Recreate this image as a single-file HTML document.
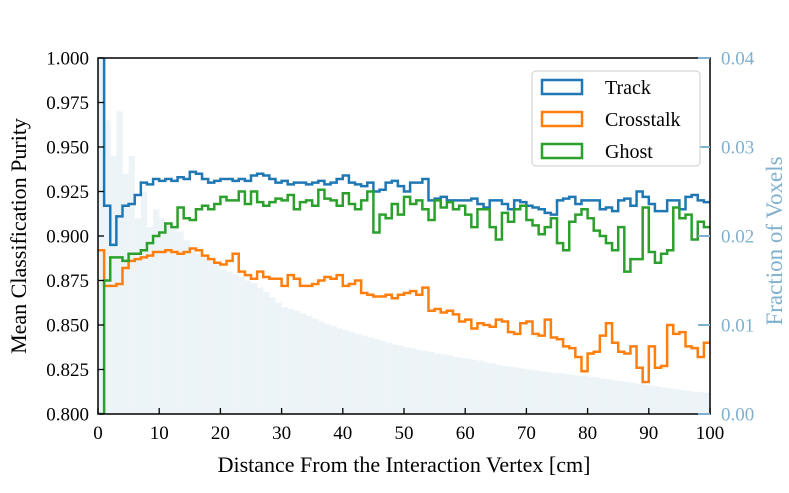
<!DOCTYPE html>
<html><head><meta charset="utf-8"><style>
body{margin:0;background:#fff}
svg text{font-family:"Liberation Serif",serif}
</style></head><body>
<svg id="chart" width="789" height="488" viewBox="0 0 789 488">
<defs><clipPath id="pc"><rect x="98" y="58" width="612" height="356"/></clipPath></defs>
<g id="hist" clip-path="url(#pc)"></g>
<g id="lines" clip-path="url(#pc)"></g>
<rect x="98" y="58" width="612" height="356" fill="none" stroke="#000" stroke-width="1.5"/>
<g id="axes"></g>
<text x="26" y="236" transform="rotate(-90 26 236)" text-anchor="middle" font-size="22">Mean Classification Purity</text>
<text x="782" y="241" transform="rotate(-90 782 241)" text-anchor="middle" font-size="23" fill="#7fb0d0">Fraction of Voxels</text>
<text x="404" y="472" text-anchor="middle" font-size="22">Distance From the Interaction Vertex [cm]</text>
<g>
<rect x="532" y="71" width="168" height="95" rx="4" fill="#fff" stroke="#ccc" stroke-width="1"/>
<g><rect x="542" y="80" width="40" height="14" fill="none" stroke="#1f77b4" stroke-width="2.5"/><text x="605" y="94" font-size="20">Track</text></g>
<g><rect x="542" y="112" width="40" height="14" fill="none" stroke="#ff7f0e" stroke-width="2.5"/><text x="605" y="126" font-size="20">Crosstalk</text></g>
<g><rect x="542" y="144" width="40" height="14" fill="none" stroke="#2ca02c" stroke-width="2.5"/><text x="605" y="158" font-size="20">Ghost</text></g>
</g>
</svg>
<script>
const fraction=[0.045,0.033,0.029,0.034,0.027,0.029,0.022,0.025,0.021,0.023,0.022,0.0215,0.021,0.0205,0.0195,0.0184,0.018,0.0176,0.0172,0.0168,0.0162,0.016,0.0157,0.0154,0.015,0.0147,0.0142,0.0137,0.0131,0.0125,0.012,0.0118,0.0116,0.0113,0.011,0.0107,0.0104,0.0101,0.0099,0.0096,0.0094,0.0092,0.009,0.0088,0.0086,0.0084,0.0082,0.008,0.0078,0.0077,0.0075,0.0074,0.0072,0.0071,0.007,0.0068,0.0067,0.0066,0.0064,0.0063,0.0062,0.0061,0.006,0.0058,0.0057,0.0055,0.0054,0.0053,0.0052,0.0051,0.005,0.0049,0.0048,0.0047,0.0046,0.0046,0.0045,0.0044,0.0043,0.0043,0.0042,0.0041,0.004,0.0039,0.0038,0.0037,0.0036,0.0035,0.0034,0.0033,0.0032,0.0031,0.003,0.0029,0.0028,0.0027,0.0026,0.0025,0.0025,0.0024];
const track=[1.05,0.917,0.895,0.911,0.917,0.918,0.923,0.93,0.929,0.932,0.931,0.932,0.931,0.933,0.932,0.936,0.935,0.932,0.93,0.931,0.932,0.932,0.931,0.932,0.931,0.934,0.935,0.934,0.932,0.93,0.931,0.929,0.93,0.93,0.929,0.93,0.931,0.929,0.93,0.932,0.934,0.93,0.929,0.928,0.93,0.925,0.926,0.93,0.931,0.928,0.925,0.93,0.93,0.932,0.92,0.921,0.922,0.92,0.92,0.92,0.92,0.921,0.918,0.916,0.92,0.92,0.918,0.915,0.92,0.919,0.917,0.916,0.915,0.913,0.912,0.92,0.921,0.922,0.918,0.92,0.92,0.92,0.915,0.916,0.914,0.92,0.921,0.917,0.925,0.922,0.918,0.914,0.914,0.92,0.92,0.915,0.922,0.923,0.92,0.919];
const crosstalk=[0.892,0.872,0.872,0.873,0.882,0.886,0.887,0.888,0.889,0.891,0.891,0.892,0.891,0.89,0.891,0.893,0.892,0.889,0.887,0.885,0.884,0.886,0.89,0.88,0.878,0.876,0.88,0.877,0.876,0.876,0.872,0.878,0.876,0.872,0.872,0.873,0.875,0.877,0.876,0.878,0.872,0.873,0.875,0.868,0.867,0.866,0.866,0.867,0.865,0.867,0.868,0.869,0.867,0.871,0.858,0.859,0.857,0.858,0.856,0.852,0.853,0.848,0.851,0.85,0.849,0.853,0.852,0.846,0.845,0.851,0.852,0.845,0.844,0.853,0.843,0.842,0.838,0.837,0.832,0.824,0.834,0.835,0.844,0.851,0.84,0.835,0.834,0.838,0.826,0.818,0.838,0.826,0.827,0.85,0.845,0.846,0.838,0.837,0.832,0.84];
const ghost=[0.8,0.875,0.888,0.888,0.886,0.89,0.89,0.892,0.896,0.9,0.902,0.907,0.905,0.916,0.91,0.909,0.915,0.917,0.915,0.918,0.922,0.92,0.92,0.925,0.918,0.925,0.919,0.917,0.919,0.921,0.92,0.923,0.915,0.919,0.92,0.917,0.926,0.921,0.92,0.917,0.924,0.918,0.915,0.92,0.925,0.902,0.912,0.91,0.918,0.912,0.922,0.918,0.92,0.915,0.909,0.92,0.916,0.919,0.915,0.917,0.912,0.905,0.915,0.915,0.905,0.898,0.913,0.908,0.915,0.917,0.909,0.906,0.901,0.905,0.91,0.896,0.892,0.908,0.912,0.915,0.91,0.903,0.9,0.896,0.892,0.905,0.88,0.887,0.887,0.916,0.891,0.885,0.89,0.892,0.916,0.91,0.912,0.898,0.908,0.905];
const xTicks=[0,10,20,30,40,50,60,70,80,90,100];
const yTicks=[0.800,0.825,0.850,0.875,0.900,0.925,0.950,0.975,1.000];
const y2Ticks=[0.00,0.01,0.02,0.03,0.04];
const X=v=>98+v*6.12, Y=v=>414-(v-0.8)/0.2*356, Y2=v=>414-v/0.04*356;
const NS='http://www.w3.org/2000/svg';
function mk(t,a,p){const e=document.createElementNS(NS,t);for(const k in a)e.setAttribute(k,a[k]);p.appendChild(e);return e;}
const hist=document.getElementById('hist');
fraction.forEach((f,i)=>{const r=mk('rect',{x:X(i),y:Y2(f),width:6.3,height:414-Y2(f),fill:'#edf4f8'},hist);

});
const lines=document.getElementById('lines');
[[track,'#1f77b4','track-line'],[crosstalk,'#ff7f0e','crosstalk-line'],[ghost,'#2ca02c','ghost-line']].forEach(([d,c,n])=>{
let p='M'+X(0)+' '+Y(d[0]);d.forEach((v,i)=>{p+=' L'+X(i)+' '+Y(v)+' L'+X(i+1)+' '+Y(v);});
const e=mk('path',{d:p,fill:'none',stroke:c,'stroke-width':2.5,'stroke-linejoin':'miter'},lines);

});
const ax=document.getElementById('axes');
xTicks.forEach(t=>{mk('line',{x1:X(t),x2:X(t),y1:414,y2:408,stroke:'#000','stroke-width':1.3},ax);
const tx=mk('text',{x:X(t),y:439,'text-anchor':'middle','font-size':19},ax);tx.textContent=t;

});
yTicks.forEach(t=>{mk('line',{x1:98,x2:104,y1:Y(t),y2:Y(t),stroke:'#000','stroke-width':1.3},ax);
const tx=mk('text',{x:89,y:Y(t)+6.5,'text-anchor':'end','font-size':19},ax);tx.textContent=t.toFixed(3);

});
y2Ticks.forEach(t=>{mk('line',{x1:710,x2:698,y1:Y2(t),y2:Y2(t),stroke:'#7fb0d0','stroke-width':2},ax);
const tx=mk('text',{x:721,y:Y2(t)+6.5,'font-size':19,fill:'#7fb0d0'},ax);tx.textContent=t.toFixed(2);

});
</script>
</body></html>
